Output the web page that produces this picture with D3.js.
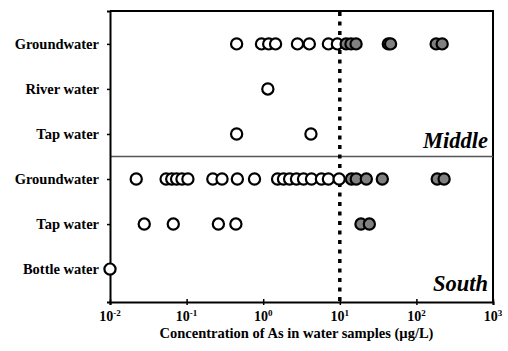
<!DOCTYPE html>
<html>
<head>
<meta charset="utf-8">
<script src="https://cdn.jsdelivr.net/npm/d3@7/dist/d3.min.js"></script>
<style>
  body { margin: 0; background: #fff; }
  svg { display: block; }
</style>
</head>
<body>
<div id="chart"></div>
<script>
// rows, top to bottom (ids must be unique, labels repeat)
var rowIds = ["m_gw", "m_rw", "m_tw", "s_gw", "s_tw", "s_bw"];
var rowLabels = ["Groundwater", "River water", "Tap water", "Groundwater", "Tap water", "Bottle water"];

// As concentrations (ug/L)
var middleGroundwater = [0.45, 0.95, 1.18, 1.45, 2.8, 4.0, 7.1, 9.3, 12.1, 14.0, 16.3, 43, 46, 181, 217];
var middleRiver = [1.15];
var middleTap = [0.45, 4.2];
var southGroundwater = [0.022, 0.054, 0.064, 0.074, 0.087, 0.104, 0.22, 0.29, 0.46, 0.77,
                        1.54, 1.84, 2.21, 2.72, 3.36, 4.27, 5.76, 7.1, 9.8,
                        14.2, 16.4, 22.2, 35.9, 187, 230];
var southTap = [0.028, 0.067, 0.26, 0.44, 18.9, 24.3];
var southBottle = [0.01];

var limit = 10; // guideline value
var xTicks = [-2, -1, 0, 1, 2, 3]; // exponents
var regions = ["Middle", "South"];

var series = [middleGroundwater, middleRiver, middleTap, southGroundwater, southTap, southBottle];

var serif = "Liberation Serif";

var width = 508, height = 351;
var margin = { top: 11, right: 15, bottom: 49, left: 110 };

var svg = d3.select("#chart").append("svg")
    .attr("width", width)
    .attr("height", height);

var x = d3.scaleLog()
    .domain([0.01, 1000])
    .range([margin.left, width - margin.right]);

var y = d3.scalePoint()
    .domain(rowIds)
    .range([margin.top, height - margin.bottom])
    .padding(0.73);

var x0 = margin.left, x1 = width - margin.right;
var y0 = margin.top, y1 = height - margin.bottom;

// frame top and right
svg.append("path")
    .attr("d", "M" + x0 + "," + y0 + "H" + x1 + "V" + y1)
    .attr("fill", "none")
    .attr("stroke", "#000")
    .attr("stroke-width", 2);

// divider between Middle and South
var yDiv = (y("m_tw") + y("s_gw")) / 2;
svg.append("line")
    .attr("x1", x0).attr("x2", x1)
    .attr("y1", yDiv).attr("y2", yDiv)
    .attr("stroke", "#555")
    .attr("stroke-width", 1.3);

// dotted guideline at 10
svg.append("line")
    .attr("x1", x(limit)).attr("x2", x(limit))
    .attr("y1", y0 + 1).attr("y2", y1)
    .attr("stroke", "#000")
    .attr("stroke-width", 3.5)
    .attr("stroke-dasharray", "4,5.5");

// x axis
var gx = svg.append("g")
    .attr("transform", "translate(0," + y1 + ")")
    .call(d3.axisBottom(x)
        .tickValues(xTicks.map(function (e) { return Math.pow(10, e); }))
        .tickSize(3)
        .tickFormat(""));
gx.select(".domain").attr("stroke-width", 2);
gx.selectAll(".tick line").attr("y1", -3).attr("y2", 3).attr("stroke-width", 1.5);

var tl = svg.append("g").selectAll("text")
    .data(xTicks)
    .enter()
    .append("text")
    .attr("x", function (d) { return x(Math.pow(10, d)); })
    .attr("y", y1 + 19)
    .attr("text-anchor", "middle")
    .attr("font-family", serif)
    .attr("font-weight", "bold")
    .attr("font-size", 14);
tl.append("tspan").text("10");
tl.append("tspan")
    .attr("dy", -5)
    .attr("font-size", 9)
    .text(function (d) { return d; });

// y axis
var gy = svg.append("g")
    .attr("transform", "translate(" + x0 + ",0)")
    .call(d3.axisLeft(y)
        .tickSize(3)
        .tickPadding(8)
        .tickFormat(function (d, i) { return rowLabels[i]; }));
gy.attr("font-family", null).attr("font-size", null);
gy.select(".domain").attr("stroke-width", 2);
gy.selectAll(".tick line").attr("stroke-width", 1.5);
gy.selectAll(".tick text")
    .attr("fill", "#000")
    .attr("font-family", serif)
    .attr("font-weight", "bold")
    .attr("font-size", 14.5);

svg.append("text")
    .attr("x", (x0 + x1) / 2 - 5)
    .attr("y", y1 + 36)
    .attr("text-anchor", "middle")
    .attr("font-family", serif)
    .attr("font-weight", "bold")
    .attr("font-size", 14.5)
    .text("Concentration of As in water samples (\u00b5g/L)");

// region labels
svg.selectAll(".region")
    .data(regions)
    .enter()
    .append("text")
    .attr("class", "region")
    .attr("x", x1 - 5)
    .attr("y", function (d, i) { return i == 0 ? yDiv - 9 : y1 - 11; })
    .attr("text-anchor", "end")
    .attr("font-family", serif)
    .attr("font-weight", "bold")
    .attr("font-size", 22.5)
    .attr("font-style", "italic")
    .text(function (d) { return d; });

// points
var pts = [];
series.forEach(function (vals, i) {
    vals.forEach(function (v) { pts.push({ row: rowIds[i], value: v }); });
});

svg.append("g").selectAll("circle")
    .data(pts)
    .enter()
    .append("circle")
    .attr("cx", function (d) { return x(d.value); })
    .attr("cy", function (d) { return y(d.row); })
    .attr("r", 5.6)
    .attr("fill", function (d) { return d.value > limit ? "#808080" : "#fff"; })
    .attr("stroke", "#000")
    .attr("stroke-width", 2.2);
</script>
</body>
</html>
